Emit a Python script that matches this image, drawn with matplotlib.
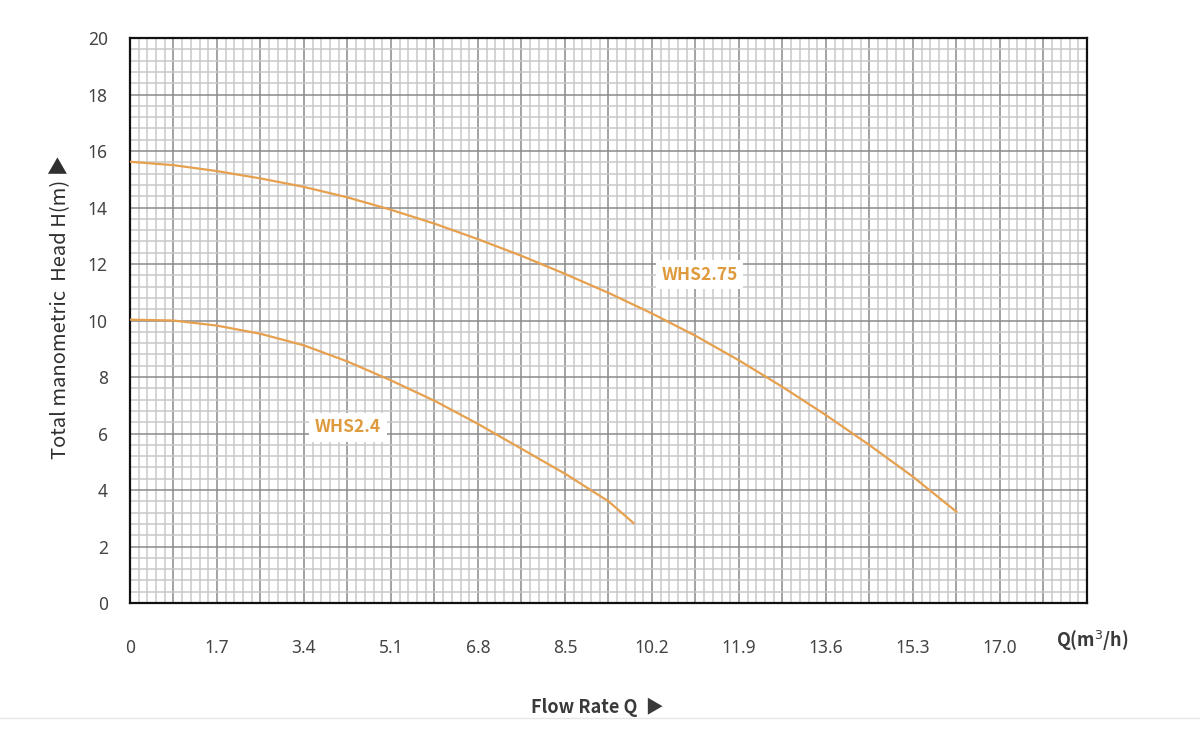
#Pump curves WHS2.4 / WHS2.75
import matplotlib
matplotlib.use('Agg')
import matplotlib.pyplot as plt
from matplotlib.lines import Line2D
import numpy as np

plt.rcParams['font.family'] = ['Noto Sans CJK SC', 'DejaVu Sans']

#Data
q_275 = [0, 0.85, 1.7, 2.55, 3.4, 4.25, 5.1, 5.95, 6.8, 7.65, 8.5, 9.35, 10.2, 11.05, 11.9, 12.75, 13.6, 14.45, 15.3, 16.15]
h_275 = [15.62, 15.5, 15.29, 15.03, 14.73, 14.36, 13.92, 13.43, 12.88, 12.29, 11.65, 10.98, 10.25, 9.46, 8.59, 7.65, 6.65, 5.59, 4.47, 3.23]

q_24 = [0, 0.85, 1.7, 2.55, 3.4, 4.25, 5.1, 5.95, 6.8, 7.65, 8.5, 9.35, 9.84]
h_24 = [10.03, 10.0, 9.82, 9.53, 9.12, 8.55, 7.88, 7.16, 6.34, 5.46, 4.58, 3.6, 2.83]

x_labels = ['0', '1.7', '3.4', '5.1', '6.8', '8.5', '10.2', '11.9', '13.6', '15.3', '17.0']
y_ticks = [0, 2, 4, 6, 8, 10, 12, 14, 16, 18, 20]

curve_color = '#E6A04E'
text_color = '#DE9A3C'
title_color = '#3a3a3a'

fig = plt.figure(figsize=(12, 7.37), dpi=100)
ax = fig.add_axes([0.1083, 0.1818, 0.7975, 0.7666])

ax.set_xlim(0, 18.7)
ax.set_ylim(0, 20)

#Grid - major every 0.85 x 2, minor every 0.17 x 0.4
major_x = np.arange(0, 18.71, 0.85)
ax.set_xticks(major_x)
ax.set_xticklabels([x_labels[i // 2] if i % 2 == 0 and i // 2 < len(x_labels) else '' for i in range(len(major_x))])
ax.set_xticks(np.arange(0, 18.71, 0.17), minor=True)
ax.set_yticks(y_ticks)
ax.set_yticks(np.arange(0, 20.01, 0.4), minor=True)
ax.grid(which='minor', color='#c9c9c9', linewidth=1.1)
ax.grid(which='major', color='#8a8a8a', linewidth=1.1)
ax.set_axisbelow(True)
ax.tick_params(which='both', length=0)
ax.tick_params(axis='x', pad=26, labelsize=12.5, labelcolor='#444444')
ax.tick_params(axis='y', pad=16, labelsize=12.5, labelcolor='#444444')
for lab in ax.get_xticklabels() + ax.get_yticklabels():
    lab.set_fontfamily(['Noto Sans', 'DejaVu Sans'])
for s in ax.spines.values():
    s.set_linewidth(1.6)
    s.set_color('#111111')

#Curves
ax.plot(q_275, h_275, color=curve_color, linewidth=1.6, zorder=3)
ax.plot(q_24, h_24, color=curve_color, linewidth=1.6, zorder=3)

box = dict(facecolor='white', edgecolor='none', pad=4)
ax.text(11.13, 11.62, 'WHS2.75', color=text_color, fontsize=12.5, fontweight='bold',
        ha='center', va='center', bbox=box, zorder=4)
ax.text(4.26, 6.22, 'WHS2.4', color=text_color, fontsize=12.5, fontweight='bold',
        ha='center', va='center', bbox=box, zorder=4)

#Axis labels
fig.text(0.05, 0.583, 'Total manometric  Head H(m) \u25B6', rotation=90, ha='center', va='center',
         fontsize=14.5, color='#2e2e2e')
fig.text(0.498, 0.04, 'Flow Rate Q  \u25B6', ha='center', va='center', fontsize=13,
         fontweight='bold', color=title_color)
fig.text(0.91, 0.131, 'Q(m$^3$/h)', ha='center', va='center', fontsize=13,
         fontweight='bold', color=title_color)

#Separator line at the bottom
fig.add_artist(Line2D([0, 1], [0.026, 0.026], transform=fig.transFigure, color='#e6e6e6', linewidth=1))

plt.savefig('out.png', dpi=100)
